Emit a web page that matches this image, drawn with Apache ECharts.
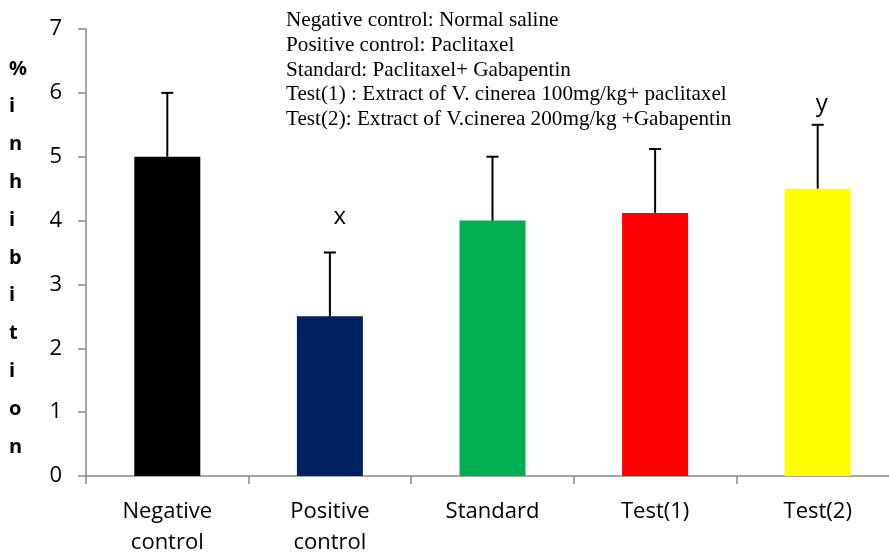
<!DOCTYPE html>
<html><head><meta charset="utf-8">
<script src="https://cdn.jsdelivr.net/npm/echarts@6/dist/echarts.min.js"></script>
<style>html,body{margin:0;padding:0;background:#fff}#c{width:889px;height:552px}</style>
</head><body><div id="c"></div>
<script>
var categories = ['Negative\ncontrol', 'Positive\ncontrol', 'Standard', 'Test(1)', 'Test(2)'];
var means = [5, 2.5, 4, 4.12, 4.5];
var errors = [1, 1, 1, 1, 1];
var colors = ['#000000', '#002060', '#00B050', '#FF0000', '#FFFF00'];
var sigLabels = ['', 'x', '', '', 'y'];
var sigLabelAt = [null, 4.05, null, null, 5.83];
var yTicks = [0, 1, 2, 3, 4, 5, 6, 7];
var legendLines = [
  'Negative control: Normal saline',
  'Positive control: Paclitaxel',
  'Standard: Paclitaxel+ Gabapentin',
  'Test(1) : Extract of V. cinerea 100mg/kg+ paclitaxel',
  'Test(2): Extract of V.cinerea 200mg/kg +Gabapentin'
];
var yName = '% inhibition'.replace(' ', '');

var chart = echarts.init(document.getElementById('c'));
var errData = means.map(function (m, i) { return [i, m, m + errors[i]]; });
var sigData = sigLabels.map(function (s, i) { return sigLabelAt[i] == null ? null : [i, sigLabelAt[i], s]; }).filter(Boolean);

chart.setOption({
  animation: false,
  grid: { left: 86, width: 813, top: 29, height: 447, containLabel: false, outerBoundsMode: 'none' },
  xAxis: {
    type: 'category', data: categories,
    axisLine: { lineStyle: { color: '#898989', width: 1.5 } },
    axisTick: { show: true, length: 8, lineStyle: { color: '#898989', width: 1.5 } },
    axisLabel: { color: '#000', fontSize: 22, fontFamily: 'Open Sans', lineHeight: 31, margin: 20 }
  },
  yAxis: {
    type: 'value', min: 0, max: 7, interval: 1,
    axisLine: { show: true, lineStyle: { color: '#898989', width: 1.5 } },
    axisTick: { show: true, length: 8, lineStyle: { color: '#898989', width: 1.5 } },
    splitLine: { show: false },
    axisLabel: { color: '#000', fontSize: 22, fontFamily: 'Open Sans', margin: 24,
      formatter: function (v) { return yTicks.indexOf(v) >= 0 ? String(v) : ''; } }
  },
  graphic: [
    { type: 'text', left: 286, top: 8, style: { text: legendLines.join('\n'), font: '21.2px "Liberation Serif"', lineHeight: 24.8, fill: '#000' } },
    { type: 'text', left: 9, top: 50, style: { text: yName.split('').join('\n'), font: 'bold 20px "Open Sans"', lineHeight: 37.8, fill: '#000', align: 'center', width: 20 } }
  ],
  series: [
    {
      type: 'bar', barWidth: 66,
      data: means.map(function (m, i) { return { value: m, itemStyle: { color: colors[i] } }; })
    },
    {
      type: 'custom', z: 5,
      renderItem: function (params, api) {
        var x = api.coord([api.value(0), api.value(1)]);
        var t = api.coord([api.value(0), api.value(2)]);
        return { type: 'group', children: [
          { type: 'line', shape: { x1: x[0], y1: x[1], x2: t[0], y2: t[1] }, style: { stroke: '#000', lineWidth: 2 } },
          { type: 'line', shape: { x1: t[0] - 6, y1: t[1], x2: t[0] + 6, y2: t[1] }, style: { stroke: '#000', lineWidth: 2 } }
        ] };
      },
      encode: { x: 0, y: [1, 2] },
      data: errData
    },
    {
      type: 'custom', z: 6,
      renderItem: function (params, api) {
        var p = api.coord([api.value(0), api.value(1)]);
        return { type: 'text', x: p[0] + (params.dataIndex === 0 ? 10 : 4), y: p[1],
          style: { text: sigData[params.dataIndex][2], font: '24px "Open Sans"', fill: '#000', align: 'center', verticalAlign: 'middle' } };
      },
      encode: { x: 0, y: 1 },
      data: sigData
    }
  ]
});
</script></body></html>
